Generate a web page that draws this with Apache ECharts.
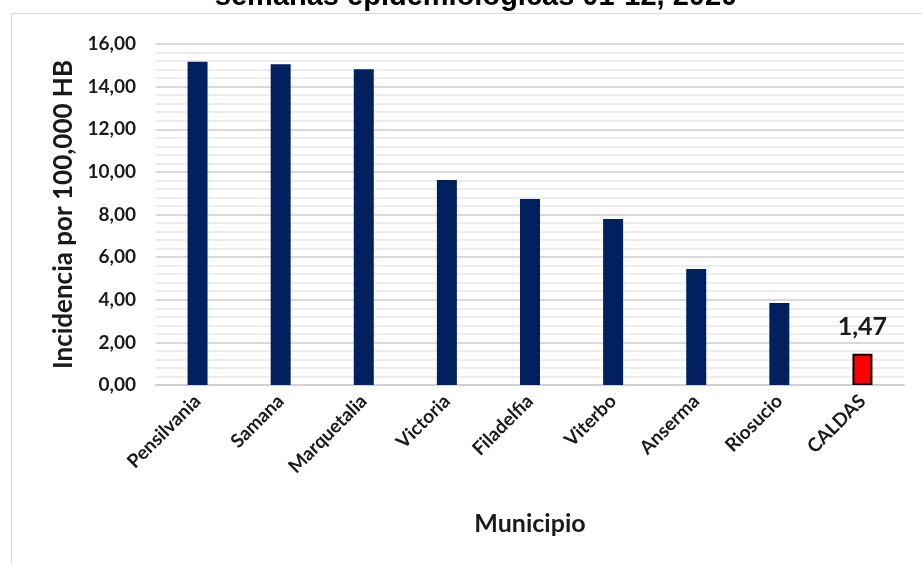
<!DOCTYPE html>
<html>
<head>
<meta charset="utf-8">
<script src="https://cdn.jsdelivr.net/npm/echarts@6/dist/echarts.min.js"></script>
<style>
  html, body { margin: 0; padding: 0; background: #fff; }
  #chart { width: 922px; height: 565px; }
</style>
</head>
<body>
<div id="chart"></div>
<script>
// datos
const municipios = ["Pensilvania", "Samana", "Marquetalia", "Victoria", "Filadelfia", "Viterbo", "Anserma", "Riosucio", "CALDAS"];
const incidencia = [15.17, 15.05, 14.81, 9.62, 8.73, 7.79, 5.44, 3.85, 1.47];
const yTicks = [0, 2, 4, 6, 8, 10, 12, 14, 16];

const fuente = "Lato, 'Open Sans', sans-serif";
const fmt = v => v.toFixed(2).replace(".", ",");

let myChart = echarts.init(document.getElementById("chart"), null, { renderer: "canvas" });

let option = {
  animation: false,
  title: {
    text: "semanas epidemiológicas 01-12, 2020",
    left: 471,
    textAlign: "center",
    top: -23,
    textStyle: { fontFamily: "Arial, 'Liberation Sans'", fontWeight: "bold", fontSize: 29, color: "#000" }
  },
  graphic: [
    { type: "line", shape: { x1: 11.5, y1: 13.5, x2: 11.5, y2: 565 }, style: { stroke: "#d9d9d9", lineWidth: 1 } },
    { type: "line", shape: { x1: 11.5, y1: 13.5, x2: 922, y2: 13.5 }, style: { stroke: "#d9d9d9", lineWidth: 1 } }
  ],
  grid: { left: 156, right: 18, top: 44, bottom: 180, containLabel: false },
  xAxis: {
    type: "category",
    data: municipios,
    name: "Municipio",
    nameLocation: "middle",
    nameGap: 126,
    nameTextStyle: { fontFamily: fuente, fontWeight: "bold", fontSize: 25, color: "#1a1a1a" },
    axisLine: { lineStyle: { color: "#d0d0d0", width: 2 } },
    axisTick: { show: false },
    axisLabel: { rotate: 45, margin: 13, fontFamily: fuente, fontWeight: "bold", fontSize: 19, color: "#1a1a1a" }
  },
  yAxis: {
    type: "value",
    min: yTicks[0],
    max: yTicks[yTicks.length - 1],
    interval: 2,
    name: "Incidencia por 100,000 HB",
    nameLocation: "middle",
    nameGap: 76,
    nameTextStyle: { fontFamily: fuente, fontWeight: "bold", fontSize: 26, color: "#1a1a1a" },
    axisLine: { show: false },
    axisTick: { show: false },
    axisLabel: { margin: 20, fontFamily: fuente, fontWeight: "bold", fontSize: 19, color: "#1a1a1a", formatter: v => fmt(v) },
    splitLine: { lineStyle: { color: "#d9d9d9", width: 2 } },
    minorTick: { show: false, splitNumber: 5 },
    minorSplitLine: { show: true, lineStyle: { color: "#ececec", width: 2 } }
  },
  series: [{
    type: "bar",
    barWidth: 20,
    data: incidencia.map((v, i) => {
      if (municipios[i] === "CALDAS") {
        return {
          value: v,
          itemStyle: { color: "#ff0000", borderColor: "#000", borderWidth: 2 },
          label: {
            show: true, position: "top", distance: 14,
            formatter: p => fmt(p.value),
            fontFamily: fuente, fontWeight: "bold", fontSize: 25, color: "#1a1a1a"
          }
        };
      }
      return { value: v, itemStyle: { color: "#002060" } };
    })
  }]
};

myChart.setOption(option);
window.addEventListener("resize", myChart.resize);
</script>
</body>
</html>
